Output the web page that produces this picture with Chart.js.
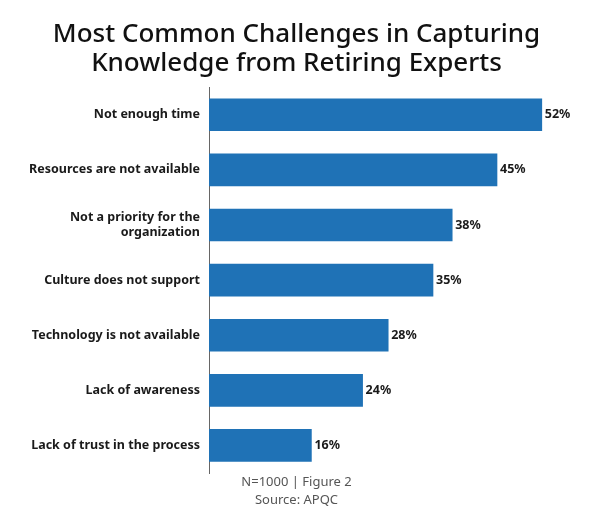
<!DOCTYPE html>
<html>
<head>
<meta charset="utf-8">
<script src="https://cdn.jsdelivr.net/npm/chart.js@4"></script>
<style>
  html, body { margin: 0; padding: 0; background: #fff; }
  #wrap { width: 600px; height: 521px; position: relative; }
</style>
</head>
<body>
<div id="wrap"><canvas id="myChart"></canvas></div>
<script>
const categorias = [
  'Not enough time',
  'Resources are not available',
  ['Not a priority for the', 'organization'],
  'Culture does not support',
  'Technology is not available',
  'Lack of awareness',
  'Lack of trust in the process'
];
const porcentajes = [52, 45, 38, 35, 28, 24, 16];
const titulo = ['Most Common Challenges in Capturing', 'Knowledge from Retiring Experts'];
const pie = ['N=1000 | Figure 2', 'Source: APQC'];

// etiquetas de valor al final de cada barra
const etiquetasValor = {
  id: 'etiquetasValor',
  afterDatasetsDraw(chart) {
    const ctx = chart.ctx;
    const meta = chart.getDatasetMeta(0);
    ctx.save();
    ctx.font = 'bold 12.5px "Noto Sans"';
    ctx.fillStyle = '#1a1a1a';
    ctx.textAlign = 'left';
    ctx.textBaseline = 'middle';
    meta.data.forEach((bar, i) => {
      ctx.fillText(porcentajes[i] + '%', bar.x + 3, bar.y);
    });
    ctx.restore();
  }
};

const grafico = document.getElementById('myChart');
new Chart(grafico, {
  type: 'bar',
  data: {
    labels: categorias,
    datasets: [{
      data: porcentajes,
      backgroundColor: '#1f72b6',
      borderWidth: 0,
      barThickness: 32
    }]
  },
  options: {
    indexAxis: 'y',
    responsive: true,
    maintainAspectRatio: false,
    animation: false,
    layout: { padding: { left: 0, right: 7, top: 0, bottom: 0 } },
    plugins: {
      legend: { display: false },
      tooltip: { enabled: false },
      title: {
        display: true,
        text: titulo,
        color: '#111',
        font: { family: '"Noto Sans"', size: 26, weight: '500', lineHeight: 1.12 },
        padding: { top: 20, bottom: 9 }
      },
      subtitle: {
        display: true,
        position: 'bottom',
        text: pie,
        color: '#555',
        font: { family: '"Noto Sans"', size: 13, weight: 'normal', lineHeight: 1.4 },
        padding: { top: 0, bottom: 11.6 }
      }
    },
    scales: {
      x: {
        display: false,
        min: 0,
        max: 60
      },
      y: {
        afterFit(s) { s.width = 209; },
        grid: { display: false, drawTicks: false },
        border: { display: true, color: '#666', width: 1 },
        ticks: {
          color: '#1a1a1a',
          padding: 9,
          font: { family: '"Noto Sans"', size: 12.5, weight: 'bold', lineHeight: 1.2 }
        }
      }
    }
  },
  plugins: [etiquetasValor]
});
</script>
</body>
</html>
